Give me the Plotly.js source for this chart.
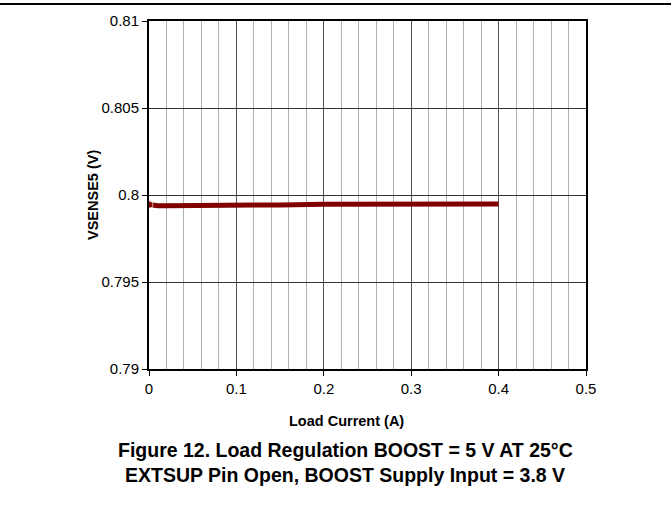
<!DOCTYPE html>
<html>
<head>
<meta charset="utf-8">
<script src="https://cdn.plot.ly/plotly-3.0.1.min.js"></script>
<style>html,body{margin:0;padding:0;background:#fff;}#chart{width:671px;height:506px;}</style>
</head>
<body>
<div id="chart"></div>
<script>
const loadCurrent = [0, 0.005, 0.01, 0.02, 0.05, 0.1, 0.15, 0.2, 0.25, 0.3, 0.35, 0.4];
const vsense5 = [0.79945, 0.79940, 0.79938, 0.79938, 0.79938, 0.79938, 0.79943, 0.79947, 0.79948, 0.79948, 0.79948, 0.79948];
const yTickVals = [0.79, 0.795, 0.8, 0.805, 0.81];
const yTickText = ['0.79', '0.795', '0.8', '0.805', '0.81'];
const xTickVals = [0, 0.1, 0.2, 0.3, 0.4, 0.5];
const xTickText = ['0', '0.1', '0.2', '0.3', '0.4', '0.5'];

const font = 'Liberation Sans, Arial, sans-serif';
const L = 149, R = 85, T = 21, B = 137, W = 671, H = 506;
const pw = W - L - R, ph = H - T - B;

const trace = {
  x: loadCurrent, y: vsense5, type: 'scatter', mode: 'lines+markers',
  line: {color: '#800000', width: 5},
  marker: {color: '#800000', size: loadCurrent.map((v, i) => i === 0 ? 8 : 0)},
  hoverinfo: 'skip', showlegend: false
};

const layout = {
  width: W, height: H,
  margin: {l: L, r: R, t: T, b: B, pad: 0},
  paper_bgcolor: '#fff', plot_bgcolor: '#fff',
  font: {family: font, color: '#000', size: 14},
  xaxis: {
    range: [0, 0.5], tickvals: xTickVals, ticktext: xTickText,
    showgrid: true, gridcolor: '#555', gridwidth: 1,
    minor: {dtick: 0.02, showgrid: true, gridcolor: '#b0b0b0', gridwidth: 1, ticks: ''},
    ticks: 'outside', ticklen: 5, tickcolor: '#000', tickwidth: 1,
    showline: true, linecolor: '#000', linewidth: 2, mirror: true,
    zeroline: false, tickfont: {size: 15, family: font},
    fixedrange: true
  },
  yaxis: {
    range: [0.79, 0.81], tickvals: yTickVals, ticktext: yTickText,
    showgrid: true, gridcolor: '#333', gridwidth: 1,
    ticks: 'outside', ticklen: 5, tickcolor: '#000', tickwidth: 1,
    showline: true, linecolor: '#000', linewidth: 2, mirror: true,
    zeroline: false, tickfont: {size: 15, family: font},
    fixedrange: true
  },
  shapes: [{
    type: 'line', xref: 'paper', yref: 'paper',
    x0: -L / pw, x1: (W - L) / pw, y0: (H - B - 4) / ph, y1: (H - B - 4) / ph,
    line: {color: '#000', width: 2}
  }],
  annotations: [
    {text: '<b>VSENSE5 (V)</b>', xref: 'paper', yref: 'paper', x: (93 - L) / pw, y: 0.5,
     textangle: -90, showarrow: false, font: {size: 14.5, family: font}, xanchor: 'center', yanchor: 'middle'},
    {text: '<b>Load Current (A)</b>', xref: 'paper', yref: 'paper', x: (346 - L) / pw, y: (H - B - 421) / ph,
     showarrow: false, font: {size: 14.5, family: font}, xanchor: 'center', yanchor: 'middle'},
    {text: '<b>Figure 12. Load Regulation BOOST = 5 V AT 25°C</b>', xref: 'paper', yref: 'paper', x: (345 - L) / pw, y: (H - B - 450) / ph,
     showarrow: false, font: {size: 19.5, family: font}, xanchor: 'center', yanchor: 'middle'},
    {text: '<b>EXTSUP Pin Open, BOOST Supply Input = 3.8 V</b>', xref: 'paper', yref: 'paper', x: (345 - L) / pw, y: (H - B - 475) / ph,
     showarrow: false, font: {size: 19.5, family: font}, xanchor: 'center', yanchor: 'middle'}
  ]
};

Plotly.newPlot('chart', [trace], layout, {displayModeBar: false, staticPlot: true});
</script>
</body>
</html>
